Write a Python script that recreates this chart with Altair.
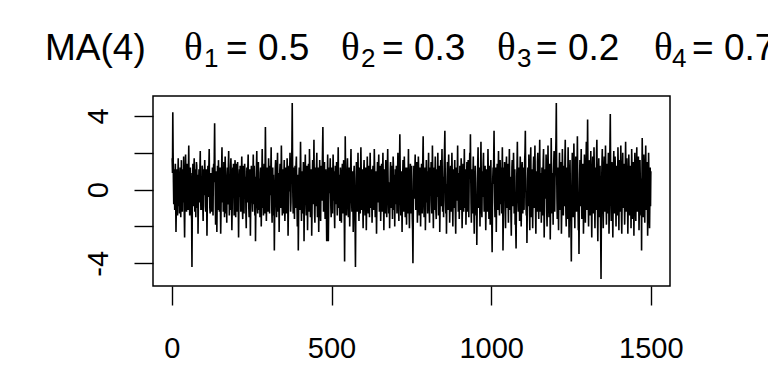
import altair as alt
import pandas as pd

# MA(4) series, values read (estimated) from the reference picture, t = 1..1500
values = [
 1.7, 0.9, 4.2, 2.0, 0.4, -0.8, 1.1, 0.3, -1.1, 0.6, 1.4, -0.4, -2.3, -1.0, 0.2, 1.1, -0.6, -1.4, 0.8, 1.7, 0.1, -0.9, 0.5, -1.3, 0.7,
 1.2, -0.2, -1.5, 0.4, 1.6, -0.5, 0.9, -1.2, 1.1, 0.3, -0.7, 1.8, 0.6, -1.4, -2.6, -0.9, 0.8, 1.9, 1.0, -0.3, -1.2, 0.2, 1.4, -0.8, 0.5,
 -1.1, 1.2, 2.4, 0.3, -0.6, -1.4, 0.7, 1.2, -0.4, 0.9, -1.3, -1.6, -4.2, -1.2, 0.6, 1.4, 0.2, -0.9, 1.0, 1.7, 0.5, -1.2, -0.3, 1.1, -1.5,
 0.4, 1.5, 1.3, -0.5, -1.0, 0.8, -2.4, -1.0, 0.3, 1.1, 0.9, -0.7, 1.2, 2.1, 0.1, -1.1, -0.2, 0.6, -1.1, 1.3, 1.0, -0.8, -1.7, 0.4, 1.1,
 -0.3, 0.7, 1.6, 0.9, -0.9, -1.2, 0.2, 1.1, -0.5, -2.5, -0.9, 0.6, 1.3, 0.8, -0.4, 1.3, 2.2, 0.3, -1.0, -1.3, 0.5, 0.9, -0.7, 0.9, -1.2,
 0.2, 1.2, -0.6, -1.4, 0.9, 1.4, 0.4, 1.9, 3.6, 1.2, -0.3, -1.9, 0.6, 1.0, -0.8, -2.3, -0.4, 1.3, 0.7, -1.1, 1.6, 0.8, -0.5, -1.2, 0.3,
 1.2, -0.9, -2.4, -1.2, 0.5, 1.3, 2.3, 0.6, -0.7, 1.1, -1.2, 0.3, 1.5, -0.2, -1.5, 0.9, 1.8, 1.0, -0.6, -1.3, 0.4, -1.8, 0.7, 1.2, 0.0,
 -0.8, 1.3, 2.1, 0.5, -1.4, -0.4, 0.8, -1.1, 1.2, 1.7, 0.9, -0.6, -2.2, -1.0, 0.6, 1.2, -0.3, 1.4, 0.2, -1.4, -0.7, 1.0, 1.6, -0.5, -1.5,
 0.3, 1.4, -0.2, -1.2, 0.8, 1.5, 0.1, -0.9, -2.6, -0.8, 0.6, 1.1, -0.4, 1.3, 0.5, -1.2, -0.6, 0.9, 1.8, 0.7, -1.1, -1.6, 0.2, 1.3, -0.3,
 -1.3, 0.4, 1.4, 1.0, -0.5, 0.7, -1.3, -2.1, 0.1, 1.2, 0.8, -0.7, 1.2, 1.9, 0.3, -1.0, -1.5, 0.5, 1.1, -0.4, -2.5, -0.9, 0.6, 1.3, 0.2,
 1.1, -0.6, -1.2, 0.9, 1.9, 0.4, -0.8, 1.3, -0.2, -1.4, 0.7, -2.8, -1.2, 0.5, 1.3, 2.1, 0.3, -0.9, -1.3, 0.8, 1.5, 0.0, -1.1, 0.6, -0.3,
 -1.5, 0.9, 1.2, -0.4, -2.0, -0.7, 1.0, 2.2, 0.6, -1.0, 0.3, -1.4, 0.8, 1.4, -0.5, -1.3, 1.0, 3.4, 1.5, -0.2, -1.7, -0.8, 0.7, 1.2, 0.1,
 -1.2, 0.5, 1.7, 0.9, -0.6, -1.3, 0.2, 1.3, -0.3, 1.1, 2.3, 0.4, -1.1, -1.8, 0.7, 1.2, -0.5, 0.8, -1.4, -0.9, -3.3, -1.4, 0.3, 1.2, 1.6,
 0.6, -0.7, -1.5, 0.4, 1.2, 2.0, 0.1, -1.2, 0.9, -0.4, -2.3, -0.8, 1.0, 1.4, 0.3, -1.0, 0.6, 2.4, 1.2, -0.5, -1.4, -0.2, 1.1, 0.5, -1.3,
 0.8, 1.6, -0.3, -1.7, -0.9, 0.7, 1.2, 0.2, -1.3, 0.6, 1.7, 1.1, -0.6, -2.5, -1.1, 0.4, 1.3, -0.1, 0.9, 2.0, 0.5, -1.2, -0.7, 1.0, 1.5,
 2.3, 4.7, 1.8, -0.4, -1.3, 0.3, 1.2, -0.8, -1.6, 0.6, 1.3, 0.0, -1.0, 1.4, 1.8, 0.4, -0.9, -2.0, -0.5, 0.8, -3.3, -1.5, 0.7, 1.2, -0.2,
 -1.1, 0.9, 2.6, 1.1, -0.6, -1.7, -0.4, 1.0, 0.3, -1.3, 0.6, 1.5, -0.2, -2.8, -1.0, 0.5, 1.2, 1.9, 0.1, -0.7, -1.4, 0.8, 1.3, -0.3, -2.2,
 -0.5, 0.9, 1.4, 0.2, -1.2, 2.2, 1.1, -0.6, -1.5, 0.4, 1.1, -0.1, -2.5, -1.2, 0.7, 1.6, 0.5, -0.8, 0.9, 2.7, 0.6, -1.3, -1.8, 0.0, 1.2,
 0.3, -0.9, 1.3, 2.0, -0.4, -1.5, 0.8, 1.2, -0.5, -2.3, -0.8, 0.6, 1.6, 0.4, -1.1, -1.7, 0.2, 1.3, 0.9, -0.6, 1.1, 2.2, 3.4, 1.0, -1.2,
 -0.3, 0.7, 1.5, -0.5, -1.6, 0.4, 1.1, -0.7, -1.2, -2.8, -0.9, 0.8, 1.9, 0.2, -2.8, -1.3, 0.5, 1.2, -0.2, 0.9, 1.7, 0.1, -1.0, -1.5, 0.6,
 1.2, -0.4, -1.3, 0.7, 1.9, 0.9, -0.6, 1.0, -1.2, -2.1, -0.2, 1.3, 0.4, -0.8, 0.6, 1.5, -0.3, -1.4, -0.5, 1.1, 2.3, 0.3, -1.0, 0.8, -0.6,
 -1.7, 0.2, 1.2, 0.6, -0.7, -1.8, -0.5, 0.9, 1.4, 0.1, -1.3, 0.5, 1.6, -0.4, -1.3, -3.9, -1.2, 2.9, 1.1, -0.6, 0.4, -1.4, -0.2, 1.1, 1.7,
 0.7, -0.8, -1.5, 0.3, 1.2, -0.3, -2.0, -0.9, 0.8, 1.3, 2.2, 0.5, -0.6, -1.2, 0.2, 1.0, -0.5, -2.3, -0.7, 0.9, 1.3, 0.0, -1.1, -2.2, -4.2,
 -1.6, 0.6, 1.5, 1.1, -0.4, -1.2, 0.7, 2.0, 0.3, -0.8, -1.7, -0.2, 1.2, 0.5, -1.3, 0.8, 2.3, 1.0, -0.6, -1.1, 0.4, 1.1, -0.9, -2.1, -0.3,
 1.0, 1.6, 0.2, -0.7, -1.4, 0.5, 1.2, -0.4, -2.2, -0.9, 0.7, 1.8, 0.9, -0.3, -1.3, 0.1, 1.3, -0.5, -1.5, 0.6, 2.0, 0.8, -1.0, -0.2, 1.1,
 -0.6, -1.8, -0.8, 0.9, 1.3, 0.3, -1.1, 0.6, 2.2, 1.2, -0.5, -1.5, 0.4, 1.0, -0.9, -2.4, -1.0, 0.7, 1.5, 0.2, -0.7, 1.2, 1.9, -0.1, -1.2,
 0.5, 1.3, -0.3, -1.7, -0.6, 0.8, 1.4, 0.1, -1.2, 0.9, 2.0, 0.6, -0.8, -2.2, -0.4, 1.1, 0.3, -1.3, 0.7, 1.6, 0.4, -0.9, -1.5, 0.2, 1.3,
 2.2, 0.7, -0.5, -1.3, 0.4, -0.2, -2.1, -0.7, 1.0, 1.5, 0.6, -1.0, 0.3, 1.3, -0.6, -1.6, 0.1, 1.8, 1.2, -0.4, -1.1, 0.8, -2.0, -0.3, 1.1,
 0.9, -0.8, 1.3, 0.2, -1.3, -0.4, 1.1, 2.0, 0.5, -1.0, -1.7, 0.6, 1.5, 3.0, 1.2, -0.3, -1.4, 0.4, 1.0, -0.7, -2.3, -0.6, 0.8, 1.6, 0.1,
 -1.2, 0.5, 1.8, 0.8, -0.5, -1.5, 0.3, 1.2, -0.9, -1.9, 0.2, 1.2, 0.6, -1.3, 0.9, 2.2, 0.0, -1.0, -2.1, -0.4, 0.7, 1.4, -0.2, -1.3, 0.6,
 1.3, -0.6, -1.6, -2.2, -4.0, -1.5, 0.4, 1.3, 0.9, -0.5, 1.0, 1.9, 0.3, -1.1, -0.7, 0.6, 1.5, -0.3, -1.8, -0.8, 0.5, 1.8, 1.1, -0.9, -1.4,
 0.2, 1.2, -0.4, -2.0, -0.6, 0.8, 1.4, 0.1, -1.3, 0.7, 1.8, 2.9, 0.9, -0.8, -1.5, 0.4, -0.2, 1.2, -2.2, -1.0, 0.6, 1.6, 0.3, -0.7, 1.0,
 -1.3, -0.5, 0.9, 2.0, 0.6, -0.9, -1.8, 0.2, 1.2, -0.3, 0.7, 1.5, -0.6, -1.3, 0.4, 2.4, 1.0, -0.8, -2.1, -0.2, 0.5, 1.2, -1.1, 0.8, 1.8,
 0.3, -1.2, -1.6, 0.6, 1.1, -0.4, 0.9, 2.0, 0.0, -1.4, -0.7, 1.3, 0.5, -2.3, -1.0, 0.8, 1.6, 0.2, -0.9, 1.2, 2.2, 0.6, -1.2, -0.5, 0.7,
 -1.5, 0.4, 1.4, 2.3, 3.2, 1.1, -0.6, -1.3, 0.3, -2.4, -0.9, 0.7, 1.5, 0.0, -1.1, 1.2, 1.9, 0.5, -0.4, -1.8, -0.8, 0.9, 1.3, -0.3, -1.2,
 0.6, 2.0, 1.0, -0.7, -2.0, -0.3, 1.1, 0.4, -1.0, 0.8, 1.6, -0.2, -1.5, -2.4, 0.1, 1.2, 0.7, -0.6, 1.1, 2.4, 0.3, -1.2, -0.5, 0.9, -1.6,
 -0.4, 1.3, 0.8, -1.1, 0.2, 1.7, 1.2, -0.5, -2.1, -0.9, 0.6, 1.4, -0.2, -1.2, 0.9, 2.2, 0.1, -1.0, -0.6, 1.1, -1.9, -0.8, 0.5, 1.5, 0.4,
 -1.2, 0.7, 1.6, -0.3, -1.5, 0.5, 1.2, 2.0, 1.0, 3.0, 0.9, -0.8, -1.8, 0.3, 1.1, -0.4, -1.3, 0.8, 1.8, 0.2, -1.2, -2.4, -0.7, 0.6, 1.3,
 0.4, -0.9, -1.4, -0.5, -3.0, -1.3, 0.6, 1.5, 2.3, 0.3, -1.0, 0.9, 1.2, -0.6, -2.0, -0.2, 1.1, 2.6, 0.7, -1.1, -1.5, 0.5, 1.0, -0.4, 1.4,
 2.0, 0.1, -1.2, -0.7, 0.8, 1.3, -0.5, -2.2, -1.0, 0.4, 1.1, 0.6, -1.2, 0.9, 2.2, 1.0, -0.3, -1.6, 0.2, 1.3, -0.6, -1.9, 0.7, 1.6, 0.0,
 -1.3, -2.0, -3.4, -1.0, 0.6, 1.2, 0.3, 1.8, 3.2, 1.1, -0.7, -1.5, 0.5, 1.2, -0.4, -2.3, -0.6, 0.9, 1.4, 0.2, -1.1, 0.8, 2.1, 0.4, -0.9,
 -1.4, 0.5, 1.6, 0.7, -0.8, 1.2, -0.2, -1.3, 0.9, 2.3, 0.6, -3.3, -1.7, 0.4, 1.2, -0.5, 1.5, 0.2, -1.2, -2.1, 0.0, 1.3, 1.8, -0.4, -1.0,
 0.8, 1.4, -0.6, -1.8, 0.3, 1.0, 2.2, 0.5, -1.1, -0.3, 0.7, -1.5, -2.5, -0.8, 1.2, 1.6, 0.1, -0.9, 0.6, 2.0, 0.9, -1.3, -0.4, 1.1, -1.9,
 -1.0, -2.2, -3.2, -0.9, 0.7, 1.3, 2.6, 0.8, -0.6, -1.2, 0.4, 1.2, -0.2, -1.7, 0.6, 1.8, 1.1, -0.5, -2.0, -0.7, 0.9, 1.5, 0.0, -1.3, 0.5,
 1.2, -0.4, -1.1, 0.8, 1.6, 2.1, 3.2, 1.0, -0.8, -1.4, -0.3, -2.9, -1.3, 0.5, 1.2, 0.2, -0.9, 1.9, 0.6, -1.1, -2.2, 0.3, 1.4, 2.3, -0.2,
 -1.5, 0.4, 1.1, -0.6, -2.1, -0.5, 1.2, 1.8, 0.3, -1.0, 0.8, 2.4, 0.7, -1.3, -2.4, -0.2, 1.0, 0.4, -1.2, 1.5, 2.0, 0.1, -0.8, -1.6, 0.6,
 1.3, 2.7, 0.5, -1.2, -0.4, 0.9, -1.8, -0.7, 1.2, 0.2, -1.4, 0.6, 1.6, 2.2, -0.3, -2.6, -1.1, 0.7, 1.1, -0.5, 0.3, 1.9, 1.0, -1.2, -2.0,
 -0.6, 1.1, 2.4, 0.8, -0.9, -1.5, 0.4, 1.4, -0.2, -2.7, -1.0, 0.5, 2.8, 1.2, -0.4, -1.3, 0.9, 0.1, -1.9, 0.7, 1.5, 2.1, 0.0, -1.2, 0.6,
 1.2, 1.9, 2.8, 4.7, 1.4, -0.5, -1.6, 0.3, 1.2, -0.7, -2.2, -0.3, 1.0, 2.0, 0.6, -1.1, 0.8, 1.5, -0.4, -2.4, -1.2, 0.5, 2.2, 1.1, -0.8,
 -1.4, 0.2, 1.3, 0.7, -0.9, 1.8, 2.7, 0.4, -1.3, -2.0, 0.1, 1.2, -0.6, -1.6, 0.9, 2.3, 0.6, -1.0, -2.6, -0.5, 0.8, 1.6, -0.2, -1.2, -2.2,
 -3.9, -1.4, 0.7, 2.0, 1.0, -0.4, -1.5, 0.5, 2.5, 1.2, -0.8, -2.1, 0.2, 1.1, 1.8, 0.4, -1.2, -0.6, 1.4, 2.9, 0.7, -1.0, -2.2, -1.1, -3.5,
 -1.3, 0.8, 1.6, 0.3, -0.9, 1.2, 2.2, -0.2, -1.6, -0.6, 0.9, 1.4, 0.1, -2.4, -1.2, 0.6, 1.9, 1.0, -0.7, -1.8, 0.4, 1.3, 2.6, 0.2, -1.1,
 1.5, 3.8, 1.2, -0.7, -2.0, -0.3, 0.9, 1.6, -0.5, -1.4, 0.6, 2.1, 0.4, -1.2, -2.6, -0.8, 1.0, 1.8, 0.3, -1.3, 0.5, 2.3, 1.1, -0.9, -2.1,
 -0.4, 1.2, 0.7, -1.1, 2.0, 2.7, 0.5, -1.3, -2.8, -0.6, 0.8, 1.7, -0.3, -1.5, 0.4, 1.3, -0.9, -2.6, -4.85, -1.8, 0.3, 1.5, 2.2, 0.6, -1.0,
 -2.1, -0.5, 1.2, 1.8, 0.1, -1.2, 0.7, 2.4, 1.0, -0.8, -1.9, 0.4, 1.4, -0.2, -1.3, 0.9, 2.0, 0.3, -2.4, -1.2, 0.8, 2.5, 4.1, 1.5, -0.6,
 -1.7, 0.4, 1.5, 0.9, -1.1, -2.6, -0.7, 1.2, 2.1, 0.2, -1.3, 0.6, 1.8, 1.1, -0.5, -2.0, -0.3, 1.3, 0.7, -1.4, 0.3, 2.3, 1.2, -0.8, -2.2,
 -0.2, 1.6, 0.6, -1.2, 0.9, 2.4, 0.4, -1.5, -2.4, -0.6, 1.1, 2.0, 0.0, -1.0, 0.5, 1.4, -0.4, -1.9, -0.9, 1.2, 2.6, 0.7, -1.2, 0.3, 1.7,
 0.5, -0.8, -2.4, -1.1, 0.8, 1.9, 1.0, -0.3, -1.4, 0.6, 1.3, -0.5, -2.1, 0.2, 2.2, 1.2, -0.9, -1.6, 0.7, 1.5, -0.1, -2.5, -0.6, 1.0, 2.0,
 0.7, -1.0, -1.7, 0.4, 1.4, 2.3, 0.3, -1.2, -0.6, 1.1, 1.8, -0.2, -2.2, -1.1, 0.9, 1.6, 0.5, -0.7, -1.4, 0.6, -3.3, 0.2, 2.8, 1.3, -0.5,
 -1.5, 0.6, 1.9, 1.0, -0.8, -1.8, 0.4, 1.3, 2.4, 0.3, -1.1, 0.9, 1.5, -0.6, -2.5, -1.3, 0.5, 2.0, 0.8, -1.3, -2.1, -0.4, 1.2, -0.9, 1.0,
]

x_ticks = [0, 500, 1000, 1500]
y_ticks = [-4, -2, 0, 2, 4]

# title pieces: plain text, Greek theta, subscript digits
title_main = ["MA(4)", "= 0.5", "= 0.3", "= 0.2", "= 0.7"]
title_theta = ["θ", "θ", "θ", "θ"]
title_sub = ["1", "2", "3", "4"]

# layout (pixel offsets from plot origin)
main_px = [-108, 73, 229, 383, 539]
theta_px = [31, 188, 344, 501]
sub_px = [51, 208, 364, 519]

W, H = 517, 190
PAD_L, PAD_T = 153, 96

df = pd.DataFrame({"t": list(range(1, len(values) + 1)), "y": values})

line = alt.Chart(df).mark_line(color="black", strokeWidth=1.6).encode(
    x=alt.X("t:Q",
            scale=alt.Scale(domain=[-59, 1560], nice=False, zero=False),
            axis=alt.Axis(values=x_ticks, format="d", title=None, grid=False, domain=False,
                          tickSize=19, tickWidth=1.4, tickColor="black",
                          labelFont="Liberation Sans", labelFontSize=29, labelColor="black",
                          labelBaseline="alphabetic", labelPadding=52,
                          labelFlush=False, labelOverlap=False, labelBound=False)),
    y=alt.Y("y:Q",
            scale=alt.Scale(domain=[-5.23, 5.08], nice=False, zero=False),
            axis=alt.Axis(values=y_ticks, title=None, grid=False, domain=False,
                          tickSize=19, tickWidth=1.4, tickColor="black",
                          labelExpr="datum.value % 4 == 0 ? '' + datum.value : ''",
                          labelAngle=270, labelAlign="center", labelBaseline="alphabetic",
                          labelPadding=27,
                          labelFont="Liberation Sans", labelFontSize=29, labelColor="black",
                          labelFlush=False, labelOverlap=False, labelBound=False)),
)

main_df = pd.DataFrame({"txt": title_main, "px": main_px})
theta_df = pd.DataFrame({"txt": title_theta, "px": theta_px})
sub_df = pd.DataFrame({"txt": title_sub, "px": sub_px})

t_main = alt.Chart(main_df).mark_text(
    font="Liberation Sans", fontSize=37, align="left", baseline="alphabetic", color="black"
).encode(x=alt.X("px:Q", scale=None), y=alt.value(-36), text="txt:N")

t_theta = alt.Chart(theta_df).mark_text(
    font="Liberation Serif", fontSize=39, align="left", baseline="alphabetic", color="black"
).encode(x=alt.X("px:Q", scale=None), y=alt.value(-36), text="txt:N")

t_sub = alt.Chart(sub_df).mark_text(
    font="Liberation Sans", fontSize=26, align="left", baseline="alphabetic", color="black"
).encode(x=alt.X("px:Q", scale=None), y=alt.value(-29), text="txt:N")

chart = alt.layer(line, t_main, t_theta, t_sub).properties(
    width=W, height=H,
    padding={"left": PAD_L, "top": PAD_T, "right": 768 - PAD_L - W, "bottom": 384 - PAD_T - H},
    autosize=alt.AutoSizeParams(type="none"),
    background="white",
).configure_view(stroke="black", strokeWidth=1.5)

chart.save("out.html", embed_options={"renderer": "svg", "actions": False})
